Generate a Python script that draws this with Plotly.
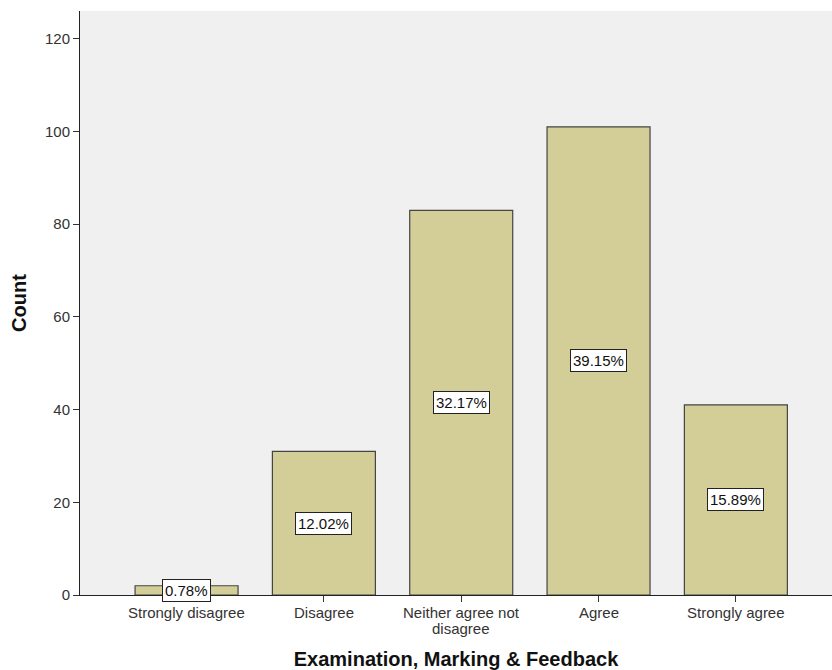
import plotly.graph_objects as go

categories = ["Strongly disagree", "Disagree", "Neither agree not<br>disagree", "Agree", "Strongly agree"]
counts = [2, 31, 83, 101, 41]
percent_labels = ["0.78%", "12.02%", "32.17%", "39.15%", "15.89%"]

x_pos = list(range(len(categories)))
FONT = "Liberation Sans, Arial"

fig = go.Figure()
fig.add_trace(go.Bar(
    x=x_pos,
    y=counts,
    width=0.75,
    marker=dict(color="#d3ce97", line=dict(color="#444444", width=1.2)),
    hoverinfo="skip",
))

# Percentage labels sit in white boxes at the middle of each bar
for xp, c, lab in zip(x_pos, counts, percent_labels):
    fig.add_annotation(
        x=xp, y=c / 2, xref="x", yref="y",
        text=lab, showarrow=False,
        font=dict(family=FONT, size=15, color="#111111"),
        bgcolor="white", bordercolor="#222222", borderwidth=1, borderpad=2,
    )

# Category labels drawn line by line for tight line spacing
for xp, cat in zip(x_pos, categories):
    for i, line in enumerate(cat.split("<br>")):
        fig.add_annotation(
            x=xp, y=0, xref="x", yref="paper",
            yanchor="top", yshift=-7 - 16 * i,
            text=line, showarrow=False,
            font=dict(family=FONT, size=15, color="#333333"),
        )

fig.update_layout(
    width=832, height=670,
    margin=dict(l=80, r=0, t=11, b=75),
    paper_bgcolor="white",
    plot_bgcolor="#f0f0f0",
    showlegend=False,
    font=dict(family=FONT, size=15, color="#333333"),
)

fig.update_xaxes(
    range=[-0.776, 4.70],
    tickmode="array", tickvals=x_pos, showticklabels=False,
    ticks="outside", ticklen=6, tickwidth=1, tickcolor="#333333",
    showline=True, linecolor="#222222", linewidth=1,
    showgrid=False, zeroline=False,
    title=dict(text="<b>Examination, Marking & Feedback</b>",
               font=dict(family=FONT, size=20, color="#111111"), standoff=51),
)

fig.update_yaxes(
    range=[0, 126],
    tickvals=[0, 20, 40, 60, 80, 100, 120],
    ticks="outside", ticklen=6, tickwidth=1, tickcolor="#333333",
    showline=True, linecolor="#222222", linewidth=1,
    showgrid=False, zeroline=False,
    tickfont=dict(family=FONT, size=15, color="#333333"),
    title=dict(text="<b>Count</b>", font=dict(family=FONT, size=20, color="#111111"), standoff=12),
)

fig.write_html("out.html")
